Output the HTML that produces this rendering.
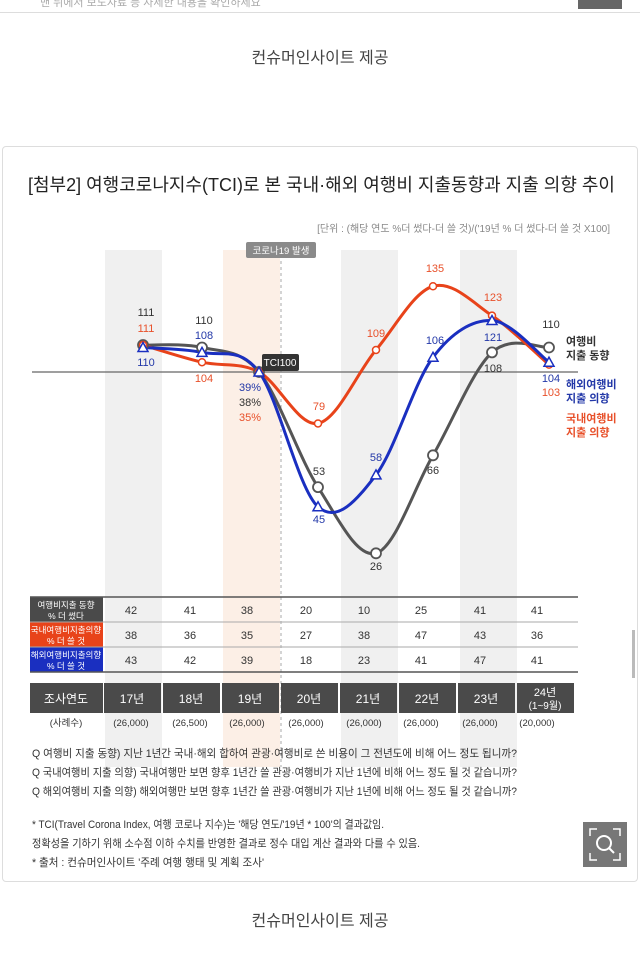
<!DOCTYPE html>
<html><head><meta charset="utf-8">
<style>
body{margin:0;width:640px;height:973px;background:#fff;position:relative;overflow:hidden;font-family:"Liberation Sans","Noto Sans CJK KR",sans-serif;}
.t{position:absolute;white-space:nowrap;}
</style></head><body>
<div class="t" style="left:40px;top:-6px;font-size:11px;color:#aaa">맨 뒤에서 보도자료 등 자세한 내용을 확인하세요</div>
<div style="position:absolute;left:578px;top:0;width:44px;height:9px;background:#666"></div>
<div style="position:absolute;left:0;top:12px;width:640px;height:1px;background:#ddd"></div>
<div class="t" style="left:0;width:640px;text-align:center;top:44px;font-size:16px;color:#444">컨슈머인사이트 제공</div>
<div style="position:absolute;left:2px;top:146px;width:634px;height:734px;border:1px solid #ddd;border-radius:4px"></div>
<div style="position:absolute;left:632px;top:630px;width:3px;height:48px;background:#bbb"></div>
<div class="t" style="left:0;width:640px;text-align:center;top:907px;font-size:16px;color:#444">컨슈머인사이트 제공</div>

<svg width="640" height="973" style="position:absolute;left:0;top:0" font-family="Liberation Sans, Noto Sans CJK KR, sans-serif">
<text x="28" y="191" font-size="18" fill="#222" textLength="587" lengthAdjust="spacingAndGlyphs">[첨부2] 여행코로나지수(TCI)로 본 국내·해외 여행비 지출동향과 지출 의향 추이</text>
<text x="610" y="232" font-size="10" fill="#888" text-anchor="end">[단위 : (해당 연도 %더 썼다-더 쓸 것)/('19년 % 더 썼다-더 쓸 것 X100]</text>
<rect x="105" y="250" width="57" height="517" fill="#f0f0f0"/>
<rect x="223" y="250" width="57" height="517" fill="#fcefe6"/>
<rect x="341" y="250" width="57" height="517" fill="#f0f0f0"/>
<rect x="460" y="250" width="57" height="517" fill="#f0f0f0"/>
<line x1="281" y1="255" x2="281" y2="767" stroke="#aaa" stroke-dasharray="3,3"/>
<rect x="246" y="242" width="70" height="16" rx="2" fill="#8a8a8a"/>
<text x="281" y="254" font-size="9.5" fill="#fff" text-anchor="middle">코로나19 발생</text>
<line x1="32" y1="372" x2="578" y2="372" stroke="#666" stroke-width="1.2"/>
<g id="lines"></g>
<rect x="262" y="354" width="37" height="17" rx="2" fill="#333"/>
<text x="280" y="366" font-size="10" fill="#fff" text-anchor="middle">TCI100</text>
<g font-size="11" text-anchor="middle">
<text x="146" y="316" fill="#333">111</text><text x="146" y="332" fill="#e8502a">111</text><text x="146" y="366" fill="#2338a8">110</text>
<text x="204" y="324" fill="#333">110</text><text x="204" y="339" fill="#2338a8">108</text><text x="204" y="382" fill="#e8502a">104</text>
<text x="250" y="391" fill="#2338a8">39%</text><text x="250" y="406" fill="#333">38%</text><text x="250" y="421" fill="#e8502a">35%</text>
<text x="319" y="410" fill="#e8502a">79</text>
<text x="319" y="475" fill="#333">53</text><text x="319" y="523" fill="#2338a8">45</text>
<text x="376" y="337" fill="#e8502a">109</text><text x="376" y="461" fill="#2338a8">58</text><text x="376" y="570" fill="#333">26</text>
<text x="435" y="272" fill="#e8502a">135</text><text x="435" y="344" fill="#2338a8">106</text><text x="433" y="474" fill="#333">66</text>
<text x="493" y="301" fill="#e8502a">123</text><text x="493" y="341" fill="#2338a8">121</text><text x="493" y="372" fill="#333">108</text>
<text x="551" y="328" fill="#333">110</text><text x="551" y="382" fill="#2338a8">104</text><text x="551" y="396" fill="#e8502a">103</text>
</g>
<g font-size="11" font-weight="bold">
<text x="566" y="345" fill="#333">여행비</text><text x="566" y="359" fill="#333">지출 동향</text>
<text x="566" y="388" fill="#2338a8">해외여행비</text><text x="566" y="402" fill="#2338a8">지출 의향</text>
<text x="566" y="422" fill="#e8502a">국내여행비</text><text x="566" y="436" fill="#e8502a">지출 의향</text>
</g>
<rect x="30" y="597" width="73" height="25" fill="#4a4a4a"/>
<rect x="30" y="622" width="73" height="25" fill="#e8431a"/>
<rect x="30" y="647" width="73" height="25" fill="#1a2fc0"/>
<line x1="30" y1="597" x2="578" y2="597" stroke="#555" stroke-width="1.5"/>
<line x1="30" y1="622" x2="578" y2="622" stroke="#aaa"/>
<line x1="30" y1="647" x2="578" y2="647" stroke="#aaa"/>
<line x1="30" y1="672" x2="578" y2="672" stroke="#555" stroke-width="1.5"/>
<g font-size="8.5" fill="#fff" text-anchor="middle">
<text x="66" y="608">여행비지출 동향</text><text x="66" y="619">% 더 썼다</text>
<text x="66" y="633">국내여행비지출의향</text><text x="66" y="644">% 더 쓸 것</text>
<text x="66" y="658">해외여행비지출의향</text><text x="66" y="669">% 더 쓸 것</text>
</g>
<g font-size="11" fill="#333" text-anchor="middle" id="tbl"></g>
<g id="hdr"></g>
<g font-size="11" fill="#333">
<text x="32" y="757" textLength="485" lengthAdjust="spacingAndGlyphs">Q 여행비 지출 동향) 지난 1년간 국내·해외 합하여 관광·여행비로 쓴 비용이 그 전년도에 비해 어느 정도 됩니까?</text>
<text x="32" y="776" textLength="485" lengthAdjust="spacingAndGlyphs">Q 국내여행비 지출 의향) 국내여행만 보면 향후 1년간 쓸 관광·여행비가 지난 1년에 비해 어느 정도 될 것 같습니까?</text>
<text x="32" y="795" textLength="485" lengthAdjust="spacingAndGlyphs">Q 해외여행비 지출 의향) 해외여행만 보면 향후 1년간 쓸 관광·여행비가 지난 1년에 비해 어느 정도 될 것 같습니까?</text>
<text x="32" y="828" textLength="352" lengthAdjust="spacingAndGlyphs">* TCI(Travel Corona Index, 여행 코로나 지수)는 '해당 연도/'19년 * 100'의 결과값임.</text>
<text x="32" y="847" textLength="388" lengthAdjust="spacingAndGlyphs">정확성을 기하기 위해 소수점 이하 수치를 반영한 결과로 정수 대입 계산 결과와 다를 수 있음.</text>
<text x="32" y="866" textLength="232" lengthAdjust="spacingAndGlyphs">* 출처 : 컨슈머인사이트 '주례 여행 행태 및 계획 조사'</text>
</g>
<rect x="583" y="822" width="44" height="45" fill="#777"/>
<circle cx="604" cy="843" r="7" fill="none" stroke="#fff" stroke-width="2"/>
<line x1="609" y1="848" x2="614" y2="853" stroke="#fff" stroke-width="2"/>
<path d="M590 836v-7h7M620 836v-7h-7M590 853v7h7M620 853v7h-7" fill="none" stroke="#fff" stroke-width="1.5"/>
</svg>
<script>
const X=[143,202,259,318,376,433,492,549];
const Y=v=>372-(v-100)*2.45;
function path(vals){const p=vals.map((v,i)=>[X[i],Y(v)]);let d=`M${p[0][0]},${p[0][1]}`;
for(let i=0;i<p.length-1;i++){const p0=p[i-1]||p[i],p1=p[i],p2=p[i+1],p3=p[i+2]||p2;
d+=` C${p1[0]+(p2[0]-p0[0])/6},${p1[1]+(p2[1]-p0[1])/6} ${p2[0]-(p3[0]-p1[0])/6},${p2[1]-(p3[1]-p1[1])/6} ${p2[0]},${p2[1]}`;}return d;}
const S=[{v:[111,110,100,53,26,66,108,110],c:"#555",m:"c"},{v:[111,104,100,79,109,135,123,103],c:"#e8431a",m:"d"},{v:[110,108,100,45,58,106,121,104],c:"#1a2fc0",m:"t"}];
let h="";S.forEach(s=>{h+=`<path d="${path(s.v)}" fill="none" stroke="${s.c}" stroke-width="3"/>`;});
S.forEach(s=>{s.v.forEach((v,i)=>{const x=X[i],y=Y(v);
if(s.m=="c")h+=`<circle cx="${x}" cy="${y}" r="5" fill="#fff" stroke="${s.c}" stroke-width="1.8"/>`;
else if(s.m=="d")h+=`<circle cx="${x}" cy="${y}" r="3.5" fill="#fff" stroke="${s.c}" stroke-width="1.5"/>`;
else h+=`<path d="M${x},${y-5}L${x+5},${y+4}L${x-5},${y+4}Z" fill="#fff" stroke="${s.c}" stroke-width="1.5"/>`;});});
document.getElementById("lines").innerHTML=h;
const R=[[42,41,38,20,10,25,41,41],[38,36,35,27,38,47,43,36],[43,42,39,18,23,41,47,41]];
let t="";R.forEach((r,j)=>r.forEach((v,i)=>{t+=`<text x="${X[i]-12}" y="${614+j*25}">${v}</text>`;}));
const N=["(26,000)","(26,500)","(26,000)","(26,000)","(26,000)","(26,000)","(26,000)","(20,000)"];
N.forEach((n,i)=>{t+=`<text x="${X[i]-12}" y="726" font-size="9.5">${n}</text>`;});
t+=`<text x="66" y="726" font-size="9.5">(사례수)</text>`;
document.getElementById("tbl").innerHTML=t;
let g=`<rect x="30" y="683" width="73" height="30" fill="#4a4a4a"/><text x="66" y="703" font-size="12" fill="#fff" text-anchor="middle">조사연도</text>`;
const L=["17년","18년","19년","20년","21년","22년","23년"];
for(let i=0;i<8;i++){const x0=104+i*59;g+=`<rect x="${x0}" y="683" width="57" height="30" fill="#4a4a4a"/>`;
if(i<7)g+=`<text x="${x0+28}" y="703" font-size="12" fill="#fff" text-anchor="middle">${L[i]}</text>`;
else g+=`<text x="${x0+28}" y="696" font-size="11" fill="#fff" text-anchor="middle">24년</text><text x="${x0+28}" y="709" font-size="10" fill="#fff" text-anchor="middle">(1~9월)</text>`;}
document.getElementById("hdr").innerHTML=g;
</script>
</body></html>
